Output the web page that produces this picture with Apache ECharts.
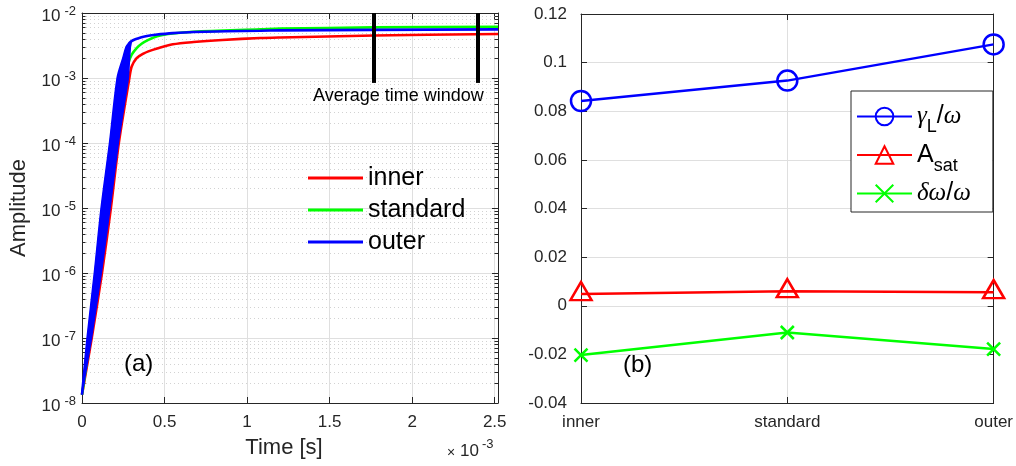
<!DOCTYPE html>
<html><head><meta charset="utf-8">
<script src="https://cdn.jsdelivr.net/npm/echarts@6/dist/echarts.min.js"></script>
<style>html,body{margin:0;padding:0;background:#fff}#c{width:1016px;height:466px}</style>
</head><body><div id="c"></div>
<script>
// ---------- data (left panel, time in units of 1e-3 s) ----------
const timeTicks = [0, 0.5, 1, 1.5, 2, 2.5];
const innerT = [0, 0.059, 0.121, 0.175, 0.223, 0.287, 0.301, 0.331, 0.372, 0.402, 0.455, 0.55, 0.676, 0.85, 1.08, 1.2, 1.77, 2.52];
const innerA = [1.34e-8, 1e-7, 1e-6, 1e-5, 1e-4, 1e-3, 1.5e-3, 2.03e-3, 2.37e-3, 2.57e-3, 2.85e-3, 3.3e-3, 3.58e-3, 3.85e-3, 4.12e-3, 4.2e-3, 4.5e-3, 4.75e-3];
const standardT = [0, 0.05, 0.10, 0.15, 0.20, 0.255, 0.281, 0.301, 0.331, 0.361, 0.402, 0.455, 0.55, 0.676, 1.08, 1.2, 1.77, 2.52];
const standardA = [1.34e-8, 1e-7, 1e-6, 1e-5, 1e-4, 1e-3, 1.7e-3, 2.28e-3, 2.89e-3, 3.37e-3, 3.85e-3, 4.4e-3, 4.85e-3, 5.15e-3, 5.6e-3, 5.75e-3, 6.0e-3, 6.15e-3];
// outer: fast oscillation fills a band during growth (left / right envelopes), then a plateau
const outerLeftT = [0, 0.034, 0.078, 0.119, 0.170, 0.216, 0.250, 0.270, 0.285, 0.300];
const outerLeftA = [1.34e-8, 1e-7, 1e-6, 1e-5, 1e-4, 1e-3, 2.0e-3, 3.0e-3, 3.4e-3, 3.7e-3];
const outerRightT = [0, 0.058, 0.117, 0.170, 0.220, 0.281, 0.288, 0.293, 0.300];
const outerRightA = [1.34e-8, 1e-7, 1e-6, 1e-5, 1e-4, 1e-3, 2.0e-3, 3.0e-3, 3.7e-3];
const outerPlateauT = [0.323, 0.36, 0.402, 0.444, 0.55, 0.676, 1.08, 1.2, 1.77, 2.52];
const outerPlateauA = [3.95e-3, 4.25e-3, 4.48e-3, 4.63e-3, 4.9e-3, 5.1e-3, 5.34e-3, 5.4e-3, 5.5e-3, 5.6e-3];
const windowTimes = [1.767, 2.398];
const windowTop = 1e-2, windowBottom = 8.4e-4;
const decadeExps = [-8, -7, -6, -5, -4, -3, -2];

// ---------- data (right panel) ----------
const cats = ['inner', 'standard', 'outer'];
const gammaL = [0.0842, 0.0926, 0.1075];
const aSat = [0.0048, 0.0060, 0.0056];
const dOmega = [-0.0203, -0.0110, -0.0178];
const rightTicks = [-0.04, -0.02, 0, 0.02, 0.04, 0.06, 0.08, 0.1, 0.12];

// ---------- helpers ----------
const zip = (t, a) => t.map((x, i) => [x, a[i]]);
const FONT = '"Liberation Sans", Arial, Helvetica, sans-serif';
const AX = '#262626';
const GRID = '#dfdfdf';
const minorVals = [];
for (let i = 0; i < decadeExps.length - 1; i++) for (let m = 2; m <= 9; m++) minorVals.push(m * Math.pow(10, decadeExps[i]));
const bandPoly = zip(outerLeftT, outerLeftA).concat(zip(outerRightT, outerRightA).reverse());
const outerLine = zip(outerLeftT, outerLeftA).concat(zip(outerPlateauT, outerPlateauA));

const chart = echarts.init(document.getElementById('c'), null, {renderer: 'canvas'});

const tickStyle = {show: true, inside: true, length: 6, lineStyle: {color: AX, width: 1}};
const lineAx = {show: true, onZero: false, lineStyle: {color: AX, width: 1}};
const labelBase = {color: AX, fontSize: 17, fontFamily: FONT};

const option = {
  animation: false,
  backgroundColor: '#fff',
  grid: [
    {left: 82, top: 13, width: 416, height: 390, containLabel: false},
    {left: 581, top: 14, width: 417, height: 389, containLabel: false}
  ],
  xAxis: [
    {gridIndex: 0, type: 'value', position: 'bottom', min: timeTicks[0], max: 2.52, interval: 0.5,
     axisLine: lineAx, axisTick: tickStyle, axisLabel: Object.assign({margin: 11}, labelBase),
     splitLine: {show: true, lineStyle: {color: GRID, width: 1}},
     name: 'Time [s]', nameLocation: 'middle', nameGap: 34,
     nameTextStyle: {color: AX, fontSize: 22, fontFamily: FONT, padding: [0, 12, 0, 0]}},
    {gridIndex: 0, type: 'value', position: 'top', min: 0, max: 2.52, interval: 0.5,
     axisLine: lineAx, axisTick: tickStyle, axisLabel: {show: false}, splitLine: {show: false}},
    {gridIndex: 1, type: 'category', position: 'bottom', data: cats, boundaryGap: false,
     axisLine: lineAx, axisTick: tickStyle, axisLabel: Object.assign({margin: 11, interval: 0}, labelBase),
     splitLine: {show: true, lineStyle: {color: GRID, width: 1}}},
    {gridIndex: 1, type: 'category', position: 'top', data: cats, boundaryGap: false,
     axisLine: lineAx, axisTick: tickStyle, axisLabel: {show: false}, splitLine: {show: false}}
  ],
  yAxis: [
    {gridIndex: 0, type: 'log', logBase: 10, min: 1e-8, max: 1e-2, position: 'left',
     axisLine: lineAx, axisTick: tickStyle,
     axisLabel: {margin: 6, padding: [6, 0, 0, 0],
       formatter: v => '{b|10}{s|' + Math.round(Math.log10(v)) + '}',
       rich: {
         b: {fontSize: 17, color: AX, fontFamily: FONT, lineHeight: 22},
         s: {fontSize: 13, color: AX, fontFamily: FONT, lineHeight: 10, verticalAlign: 'top', padding: [0, 0, 0, 4]}
       }},
     splitLine: {show: true, lineStyle: {color: GRID, width: 1}},
     name: 'Amplitude', nameLocation: 'middle', nameGap: 52,
     nameTextStyle: {color: AX, fontSize: 22, fontFamily: FONT}},
    {gridIndex: 0, type: 'log', logBase: 10, min: 1e-8, max: 1e-2, position: 'right',
     axisLine: lineAx, axisTick: tickStyle, axisLabel: {show: false}, splitLine: {show: false}},
    {gridIndex: 1, type: 'value', min: rightTicks[0], max: rightTicks[rightTicks.length - 1], interval: 0.02, position: 'left',
     axisLine: lineAx, axisTick: tickStyle, axisLabel: Object.assign({margin: 14}, labelBase),
     splitLine: {show: true, lineStyle: {color: GRID, width: 1}}},
    {gridIndex: 1, type: 'value', min: rightTicks[0], max: rightTicks[rightTicks.length - 1], interval: 0.02, position: 'right',
     axisLine: lineAx, axisTick: tickStyle, axisLabel: {show: false}, splitLine: {show: false}}
  ],
  legend: [
    {data: ['inner', 'standard', 'outer'], orient: 'vertical', left: 308, top: 162, padding: 0, itemGap: 0,
     itemWidth: 55, itemHeight: 3, icon: 'rect', selectedMode: false,
     textStyle: {fontSize: 25, color: '#000', fontFamily: FONT, lineHeight: 32}},
    {data: ['gamma', 'asat', 'domega'], orient: 'vertical', left: 851, top: 91, padding: [13, 22, 6, 5], itemGap: 6,
     itemWidth: 55, itemHeight: 22, selectedMode: false,
     borderColor: AX, borderWidth: 1, backgroundColor: '#fff',
     formatter: name => ({
       gamma: '{g|γ}{sub|L}{n|/}{g|ω}',
       asat: '{n|A}{sub|sat}',
       domega: '{g|δω}{n|/}{g|ω}'
     })[name],
     textStyle: {color: '#000', fontFamily: FONT, fontSize: 25,
       rich: {
         g: {fontSize: 25, fontStyle: 'italic', fontFamily: '"Liberation Serif", "DejaVu Serif", serif', color: '#000', lineHeight: 40},
         n: {fontSize: 25, fontFamily: FONT, color: '#000', lineHeight: 40},
         sub: {fontSize: 18, fontFamily: FONT, color: '#000', lineHeight: 16, verticalAlign: 'bottom'}
       }}}
  ],
  graphic: [
    {type: 'text', left: 313, top: 87, style: {text: 'Average time window', fontSize: 18, fontFamily: FONT, fill: '#000'}, z: 10},
    {type: 'text', left: 124, top: 352, style: {text: '(a)', fontSize: 24, fontFamily: FONT, fill: '#000'}, z: 10},
    {type: 'text', left: 623, top: 353, style: {text: '(b)', fontSize: 24, fontFamily: FONT, fill: '#000'}, z: 10},
    {type: 'text', left: 447, top: 446, style: {text: '×', fontSize: 14, fontFamily: FONT, fill: AX}},
    {type: 'text', left: 460, top: 443, style: {text: '10', fontSize: 17, fontFamily: FONT, fill: AX}},
    {type: 'text', left: 482, top: 438, style: {text: '-3', fontSize: 13, fontFamily: FONT, fill: AX}}
  ],
  series: [
    {type: 'custom', name: 'minorGrid', xAxisIndex: 0, yAxisIndex: 0, silent: true, clip: false, z: 1,
     data: minorVals.map(v => [0, v]),
     renderItem: (params, api) => {
       const y = Math.round(api.coord([0, api.value(1)])[1]) + 0.5;
       const cs = params.coordSys;
       return {type: 'group', children: [
         {type: 'line', shape: {x1: cs.x, y1: y, x2: cs.x + cs.width, y2: y}, style: {stroke: '#d2d2d2', lineWidth: 1, lineDash: [1, 3]}},
         {type: 'line', shape: {x1: cs.x, y1: y, x2: cs.x + 3.5, y2: y}, style: {stroke: AX, lineWidth: 1}},
         {type: 'line', shape: {x1: cs.x + cs.width - 3.5, y1: y, x2: cs.x + cs.width, y2: y}, style: {stroke: AX, lineWidth: 1}}
       ]};
     }},
    {type: 'line', name: 'inner', xAxisIndex: 0, yAxisIndex: 0, data: zip(innerT, innerA), symbol: 'none', smooth: 0.3, z: 2,
     lineStyle: {color: '#ff0000', width: 2.6}, itemStyle: {color: '#ff0000'},
     markLine: {silent: true, symbol: ['none', 'none'], label: {show: false}, z: 6,
       lineStyle: {color: '#000', width: 4, type: 'solid'},
       data: windowTimes.map(t => [{coord: [t, windowTop]}, {coord: [t, windowBottom]}])}},
    {type: 'line', name: 'standard', xAxisIndex: 0, yAxisIndex: 0, data: zip(standardT, standardA), symbol: 'none', smooth: 0.3, z: 3,
     lineStyle: {color: '#00ff00', width: 2.6}, itemStyle: {color: '#00ff00'}},
    {type: 'custom', name: 'outerBand', xAxisIndex: 0, yAxisIndex: 0, silent: true, z: 4,
     data: [[0.1, 1e-5]],
     renderItem: (params, api) => ({type: 'polygon', shape: {points: bandPoly.map(p => api.coord(p))},
       style: {fill: '#0000ff', stroke: '#0000ff', lineWidth: 1.5}})},
    {type: 'line', name: 'outer', xAxisIndex: 0, yAxisIndex: 0, data: outerLine, symbol: 'none', smooth: 0.3, z: 4,
     lineStyle: {color: '#0000ff', width: 2.6}, itemStyle: {color: '#0000ff'}},

    {type: 'line', name: 'gamma', xAxisIndex: 2, yAxisIndex: 2, data: gammaL, clip: false,
     symbol: 'circle', symbolSize: 20, lineStyle: {color: '#0000ff', width: 2.5},
     itemStyle: {color: 'rgba(0,0,0,0)', borderColor: '#0000ff', borderWidth: 2.5}},
    {type: 'line', name: 'asat', xAxisIndex: 2, yAxisIndex: 2, data: aSat, clip: false,
     symbol: 'triangle', symbolSize: [21, 18], symbolOffset: [0, -3], lineStyle: {color: '#ff0000', width: 2.5},
     itemStyle: {color: 'rgba(0,0,0,0)', borderColor: '#ff0000', borderWidth: 2.5}},
    {type: 'line', name: 'domega', xAxisIndex: 2, yAxisIndex: 2, data: dOmega, clip: false,
     symbol: 'path://M0,0L10,10M10,0L0,10', symbolSize: 13, lineStyle: {color: '#00ff00', width: 2.5},
     itemStyle: {color: 'rgba(0,0,0,0)', borderColor: '#00ff00', borderWidth: 2.5}}
  ]
};
chart.setOption(option);
</script>
</body></html>
